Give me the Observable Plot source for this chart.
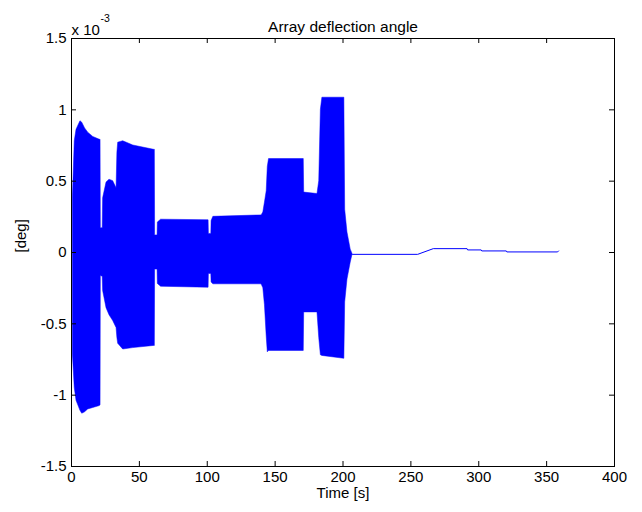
<!DOCTYPE html>
<html>
<head>
<meta charset="utf-8">
<script src="https://cdn.jsdelivr.net/npm/d3@7"></script>
<script src="https://cdn.jsdelivr.net/npm/@observablehq/plot@0.6"></script>
<style>
  html, body { margin: 0; padding: 0; background: #fff; }
</style>
</head>
<body>
<div id="chart"></div>
<script>
// Oscillating part (t < ~207 s): envelope of the dense oscillation (units: 1e-3 deg)
const envT  = [1.0, 2.4, 3.7, 6.6, 7.9, 10, 12.3, 16, 20.9, 21.4, 21.6, 23.0, 23.3, 25.8, 28, 30.7, 33.2, 33.8, 34.4, 38.1, 45.5, 60.7, 61.4, 61.6, 63.4, 63.6, 66, 101.0, 101.2, 103.0, 103.2, 104.5, 140, 141.3, 142.5, 143.8, 144.6, 145.5, 171.1, 171.4, 181.2, 182.5, 183.7, 184.8, 201.0, 201.6, 203.3, 205.7, 207];
const envHi = [0.38, 0.78, 0.86, 0.92, 0.91, 0.87, 0.84, 0.81, 0.79, 0.79, 0.17, 0.17, 0.38, 0.49, 0.51, 0.50, 0.45, 0.70, 0.77, 0.78, 0.75, 0.72, 0.72, 0.12, 0.12, 0.21, 0.23, 0.226, 0.13, 0.13, 0.22, 0.25, 0.26, 0.28, 0.35, 0.43, 0.60, 0.655, 0.655, 0.42, 0.41, 0.50, 1.00, 1.085, 1.085, 0.30, 0.14, 0.02, -0.01];
const envLo = [-0.71, -0.95, -1.04, -1.11, -1.13, -1.12, -1.10, -1.09, -1.076, -1.07, -0.165, -0.17, -0.27, -0.39, -0.44, -0.48, -0.53, -0.60, -0.64, -0.68, -0.67, -0.655, -0.655, -0.12, -0.12, -0.22, -0.24, -0.247, -0.15, -0.15, -0.21, -0.223, -0.223, -0.25, -0.37, -0.59, -0.70, -0.69, -0.69, -0.42, -0.42, -0.60, -0.72, -0.725, -0.745, -0.35, -0.19, -0.07, -0.016];

// Quiet tail (t > ~207 s)
const tailT = [207, 255, 266.5, 291.4, 291.8, 301.8, 302.2, 320.3, 320.7, 358.1, 358.8];
const tailV = [-0.013, -0.013, 0.027, 0.027, 0.018, 0.018, 0.011, 0.011, 0.004, 0.004, 0.011];

const xTicks = [0, 50, 100, 150, 200, 250, 300, 350, 400];
const yTicks = [-1.5, -1, -0.5, 0, 0.5, 1, 1.5];

const titleText = "Array deflection angle";
const xLabel = "Time [s]";
const yLabel = "[deg]";
const expBase = "x 10";
const expPow = "-3";

const W = 642, H = 512, mL = 71, mR = 28, mT = 38, mB = 46;
const plotW = W - mL - mR, plotH = H - mT - mB;
const font = "'Liberation Sans', Arial, Helvetica, sans-serif";

const env = envT.map((t, i) => ({t, hi: envHi[i], lo: envLo[i]}));
const tail = tailT.map((t, i) => ({t, v: tailV[i]}));

const chart = Plot.plot({
  width: W, height: H,
  marginLeft: mL, marginRight: mR, marginTop: mT, marginBottom: mB,
  style: {fontFamily: font, fontSize: "15px", background: "white", color: "black", overflow: "visible"},
  x: {domain: [0, 400]},
  y: {domain: [-1.5, 1.5]},
  marks: [
    Plot.areaY(env, {x: "t", y1: "lo", y2: "hi", fill: "#0000ff", stroke: "#0000ff", strokeWidth: 0.5}),
    Plot.line(tail, {x: "t", y: "v", stroke: "#0000ff", strokeWidth: 1}),
    Plot.frame({stroke: "black", strokeWidth: 1}),
    Plot.tickX(xTicks, {x: d => d, insetTop: plotH - 5, stroke: "black"}),
    Plot.tickX(xTicks, {x: d => d, insetBottom: plotH - 5, stroke: "black"}),
    Plot.tickY(yTicks, {y: d => d, insetRight: plotW - 5, stroke: "black"}),
    Plot.tickY(yTicks, {y: d => d, insetLeft: plotW - 5, stroke: "black"}),
    Plot.axisX(xTicks, {tickSize: 0, tickPadding: 5, label: null, tickFormat: d => String(d), fontSize: 15}),
    Plot.axisY(yTicks, {tickSize: 0, tickPadding: 5, label: null, tickFormat: d => String(d), fontSize: 15}),
    Plot.text([titleText], {frameAnchor: "top", dy: -18, fontSize: 15.5, fill: "black"}),
    Plot.text([expBase], {frameAnchor: "top-left", textAnchor: "start", dy: -14, dx: 0, fontSize: 15, fill: "black"}),
    Plot.text([expPow], {frameAnchor: "top-left", textAnchor: "start", dy: -24, dx: 29, fontSize: 10.5, fill: "black"}),
    Plot.text([yLabel], {frameAnchor: "left", dx: -50, rotate: -90, fontSize: 15, fill: "black"}),
    Plot.text([xLabel], {frameAnchor: "bottom", dy: 31, fontSize: 15, fill: "black"})
  ]
});
document.getElementById("chart").appendChild(chart);
</script>
</body>
</html>
